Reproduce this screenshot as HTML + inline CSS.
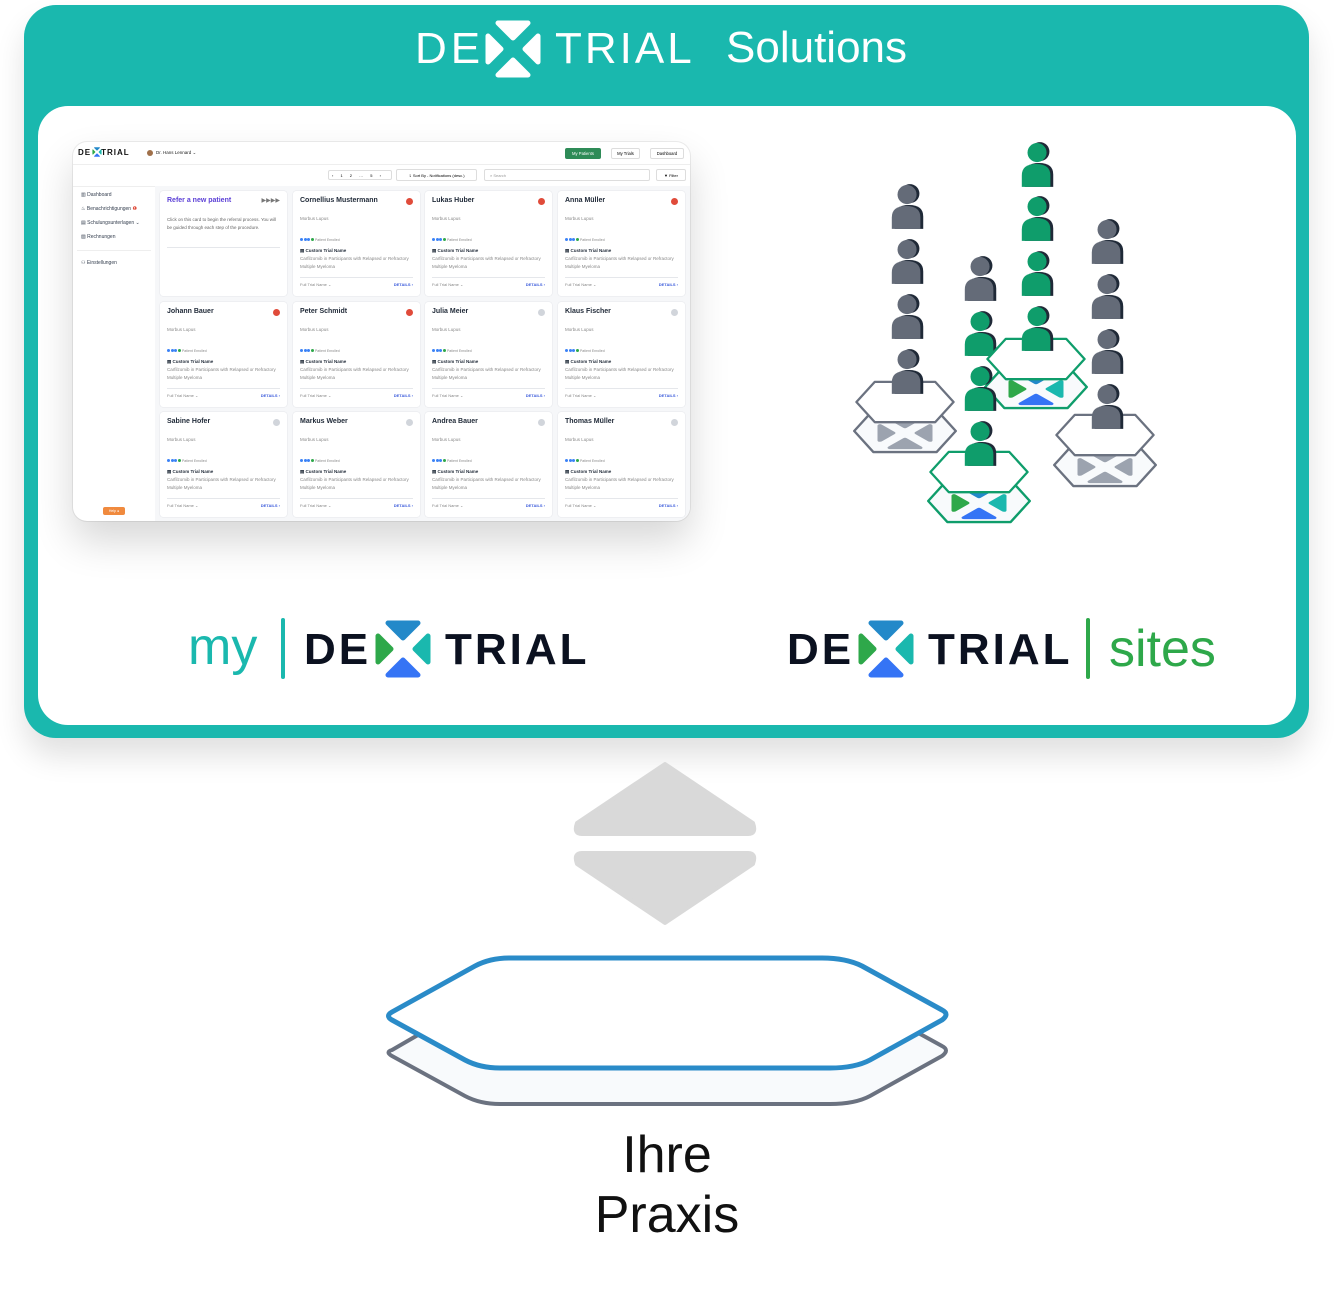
<!DOCTYPE html>
<html><head><meta charset="utf-8">
<style>
*{margin:0;padding:0;box-sizing:border-box}
body{width:1334px;height:1295px;background:#fff;position:relative;overflow:hidden;font-family:"Liberation Sans",sans-serif}
.abs{position:absolute}
#outer{left:24px;top:5px;width:1285px;height:733px;background:#1ab8ae;border-radius:32px;box-shadow:0 18px 30px rgba(0,0,0,.12)}
#inner{left:38px;top:106px;width:1258px;height:619px;background:#fff;border-radius:30px}
.logo{font-weight:bold;letter-spacing:3px;white-space:nowrap}
#dash{left:73px;top:142px;width:617px;height:379px;background:#fff;border-radius:14px;box-shadow:0 20px 40px rgba(0,0,0,.16),0 0 0 1px #eee;overflow:hidden}
#dash .main{position:absolute;left:82px;top:44px;right:0;bottom:0;background:#f6f7f9}
.card{position:absolute;width:127px;height:105px;background:#fff;border-radius:3px;box-shadow:0 0 0 .5px #e5e7eb;font-size:4.5px;color:#888}
.card .n{position:absolute;left:7px;top:6px;font-size:7px;font-weight:bold;color:#1f2937}
.card .b{position:absolute;right:7px;top:7px;width:7px;height:7px;border-radius:50%;background:#e04b3a}
.card .b.g{background:#d1d5db}
.card .m{position:absolute;left:7px;top:25px}
.card .d{position:absolute;left:7px;top:47px;font-size:3.5px}
.card .d i{display:inline-block;width:3px;height:3px;border-radius:50%;background:#3b82f6;margin-right:.5px}
.card .t{position:absolute;left:7px;top:57px;color:#1f2937;font-weight:bold}
.card .x{position:absolute;left:7px;top:64px;width:114px;line-height:7.5px}
.card .l{position:absolute;left:7px;right:7px;top:86px;border-top:.5px solid #e5e7eb}
.card .f{position:absolute;left:7px;top:91px;font-size:4px}
.card .det{position:absolute;right:7px;top:91px;font-size:4px;color:#3b5bdb;font-weight:bold}
.side{position:absolute;left:8px;font-size:5px;color:#374151}
</style></head><body>
<svg width="0" height="0" style="position:absolute">
<defs>
<symbol id="xw" viewBox="0 0 60 60"><g stroke-linejoin="round" stroke-width="5" fill="#fff" stroke="#fff">
<path d="M15 4H45L30 19Z"/><path d="M15 56H45L30 41Z"/><path d="M5 17V43L18 30Z"/><path d="M55 17V43L42 30Z"/></g></symbol>
<symbol id="xc" viewBox="0 0 60 60"><g stroke-linejoin="round" stroke-width="5">
<path d="M15 4H45L30 19Z" fill="#2389c9" stroke="#2389c9"/><path d="M15 56H45L30 41Z" fill="#3574f5" stroke="#3574f5"/><path d="M5 17V43L18 30Z" fill="#2ea84a" stroke="#2ea84a"/><path d="M55 17V43L42 30Z" fill="#1ab8ae" stroke="#1ab8ae"/></g></symbol>
<symbol id="xc2" viewBox="0 0 60 60" preserveAspectRatio="none"><g stroke-linejoin="round" stroke-width="5">
<path d="M15 4H45L30 19Z" fill="#2389c9" stroke="#2389c9"/><path d="M15 56H45L30 41Z" fill="#3574f5" stroke="#3574f5"/><path d="M5 17V43L18 30Z" fill="#2ea84a" stroke="#2ea84a"/><path d="M55 17V43L42 30Z" fill="#1ab8ae" stroke="#1ab8ae"/></g></symbol>
<symbol id="xg" viewBox="0 0 60 60" preserveAspectRatio="none"><g stroke-linejoin="round" stroke-width="5" fill="#9ca3af" stroke="#9ca3af">
<path d="M15 4H45L30 19Z"/><path d="M15 56H45L30 41Z"/><path d="M5 17V43L18 30Z"/><path d="M55 17V43L42 30Z"/></g></symbol>
<symbol id="pg" viewBox="0 0 42 48"><circle cx="23" cy="11" r="10" fill="#1f2937"/><path d="M7 48V35Q7 23 22 23Q37 23 37 35V48Z" fill="#1f2937"/><circle cx="20" cy="12" r="10" fill="#646b78"/><path d="M4 48V36Q4 24 19 24Q34 24 34 36V48Z" fill="#646b78"/></symbol>
<symbol id="pn" viewBox="0 0 42 48"><circle cx="23" cy="11" r="10" fill="#1f2937"/><path d="M7 48V35Q7 23 22 23Q37 23 37 35V48Z" fill="#1f2937"/><circle cx="20" cy="12" r="10" fill="#0f9d6b"/><path d="M4 48V36Q4 24 19 24Q34 24 34 36V48Z" fill="#0f9d6b"/></symbol>
<symbol id="hx" viewBox="0 0 110 48"><path d="M22 2H88L108 24L88 46H22L2 24Z" stroke-linejoin="round" stroke-width="2.5"/></symbol>
</defs></svg>

<div id="outer" class="abs"></div>
<div id="inner" class="abs"></div>

<div class="abs logo" style="left:415px;top:23px;font-size:44px;color:#fff;line-height:52px;font-weight:normal;letter-spacing:4px">DE</div>
<svg class="abs" style="left:483px;top:19px" width="60" height="60"><use href="#xw"/></svg>
<div class="abs logo" style="left:555px;top:23px;font-size:44px;color:#fff;line-height:52px;font-weight:normal;letter-spacing:3px">TRIAL</div>
<div class="abs" style="left:726px;top:22px;font-size:44px;color:#fff;line-height:52px">Solutions</div>

<div id="dash" class="abs">
 <div class="abs" style="left:5px;top:6px;font-size:8px;font-weight:bold;letter-spacing:1px;color:#111">DE<span style="display:inline-block;width:10px"></span>TRIAL</div>
 <svg class="abs" style="left:19px;top:5px" width="10" height="10"><use href="#xc"/></svg>
 <div class="abs" style="left:74px;top:8px;width:6px;height:6px;border-radius:50%;background:#a0704a"></div>
 <div class="abs" style="left:83px;top:8px;font-size:4.5px;color:#222">Dr. Hans Lennard ⌄</div>
 <div class="abs" style="left:492px;top:6px;width:36px;height:11px;background:#2e8b57;border-radius:2px;font-size:4.2px;color:#fff;text-align:center;line-height:11px">My Patients</div>
 <div class="abs" style="left:538px;top:6px;width:29px;height:11px;border:.5px solid #ddd;border-radius:2px;font-size:4.2px;text-align:center;line-height:10px">My Trials</div>
 <div class="abs" style="left:577px;top:6px;width:34px;height:11px;border:.5px solid #ddd;border-radius:2px;font-size:4.2px;text-align:center;line-height:10px">Dashboard</div>
 <div class="abs" style="left:0;right:0;top:22px;border-top:.5px solid #eee"></div>
 <div class="abs" style="left:255px;top:28px;width:64px;height:10px;border:.5px solid #ddd;border-radius:2px;font-size:4px;line-height:9px;letter-spacing:3px;padding-left:3px">‹ 1 2 … 5 ›</div>
 <div class="abs" style="left:323px;top:27px;width:81px;height:12px;border:.5px solid #ddd;border-radius:2px;font-size:4px;line-height:11px;text-align:center">⇂ Sort By - Notifications (desc.)</div>
 <div class="abs" style="left:411px;top:27px;width:166px;height:12px;border:.5px solid #ddd;border-radius:2px;font-size:4px;line-height:11px;padding-left:5px;color:#999">⌕ Search</div>
 <div class="abs" style="left:583px;top:27px;width:30px;height:12px;border:.5px solid #ddd;border-radius:2px;font-size:4px;line-height:11px;text-align:center">▼ Filter</div>
 <div class="abs" style="left:0;right:0;top:44px;border-top:.5px solid #eee"></div>
 <div class="side" style="top:50px">▥ Dashboard</div>
 <div class="side" style="top:64px">♨ Benachrichtigungen <span style="color:#e04b3a">❶</span></div>
 <div class="side" style="top:78px">▤ Schulungsunterlagen ⌄</div>
 <div class="side" style="top:92px">▨ Rechnungen</div>
 <div class="abs" style="left:4px;width:74px;top:108px;border-top:.5px solid #eee"></div>
 <div class="side" style="top:118px">⚇ Einstellungen</div>
 <div class="abs" style="left:30px;top:365px;width:22px;height:8px;background:#f08a3e;border-radius:2px;font-size:3.5px;color:#fff;text-align:center;line-height:8px">Help ●</div>
 <div class="main"></div>

 <div class="card" style="left:87px;top:49px"><div class="n" style="color:#5b3fd6">Refer a new patient</div><div style="position:absolute;right:7px;top:6px;font-size:6px;color:#777">▶▶▶▶</div><div class="x" style="top:25px;color:#666">Click on this card to begin the referral process. You will be guided through each step of the procedure.</div><div class="l" style="top:56px"></div></div>

 <div class="card" style="left:220px;top:49px"><div class="n">Cornellius  Mustermann</div><div class="b"></div><div class="m">Morbus Lupus</div><div class="d"><i></i><i></i><i></i><i style="background:#2ea84a"></i> Patient Enrolled</div><div class="t">▤ Custom Trial Name</div><div class="x">Carfilzomib in Participants with Relapsed or Refractory Multiple Myeloma</div><div class="l"></div><div class="f">Full Trial Name ⌄</div><div class="det">DETAILS ›</div></div>
 <div class="card" style="left:352px;top:49px"><div class="n">Lukas Huber</div><div class="b"></div><div class="m">Morbus Lupus</div><div class="d"><i></i><i></i><i></i><i style="background:#2ea84a"></i> Patient Enrolled</div><div class="t">▤ Custom Trial Name</div><div class="x">Carfilzomib in Participants with Relapsed or Refractory Multiple Myeloma</div><div class="l"></div><div class="f">Full Trial Name ⌄</div><div class="det">DETAILS ›</div></div>
 <div class="card" style="left:485px;top:49px"><div class="n">Anna Müller</div><div class="b"></div><div class="m">Morbus Lupus</div><div class="d"><i></i><i></i><i></i><i style="background:#2ea84a"></i> Patient Enrolled</div><div class="t">▤ Custom Trial Name</div><div class="x">Carfilzomib in Participants with Relapsed or Refractory Multiple Myeloma</div><div class="l"></div><div class="f">Full Trial Name ⌄</div><div class="det">DETAILS ›</div></div>

 <div class="card" style="left:87px;top:160px"><div class="n">Johann Bauer</div><div class="b"></div><div class="m">Morbus Lupus</div><div class="d"><i></i><i></i><i></i><i style="background:#2ea84a"></i> Patient Enrolled</div><div class="t">▤ Custom Trial Name</div><div class="x">Carfilzomib in Participants with Relapsed or Refractory Multiple Myeloma</div><div class="l"></div><div class="f">Full Trial Name ⌄</div><div class="det">DETAILS ›</div></div>
 <div class="card" style="left:220px;top:160px"><div class="n">Peter Schmidt</div><div class="b"></div><div class="m">Morbus Lupus</div><div class="d"><i></i><i></i><i></i><i style="background:#2ea84a"></i> Patient Enrolled</div><div class="t">▤ Custom Trial Name</div><div class="x">Carfilzomib in Participants with Relapsed or Refractory Multiple Myeloma</div><div class="l"></div><div class="f">Full Trial Name ⌄</div><div class="det">DETAILS ›</div></div>
 <div class="card" style="left:352px;top:160px"><div class="n">Julia Meier</div><div class="b g"></div><div class="m">Morbus Lupus</div><div class="d"><i></i><i></i><i></i><i style="background:#2ea84a"></i> Patient Enrolled</div><div class="t">▤ Custom Trial Name</div><div class="x">Carfilzomib in Participants with Relapsed or Refractory Multiple Myeloma</div><div class="l"></div><div class="f">Full Trial Name ⌄</div><div class="det">DETAILS ›</div></div>
 <div class="card" style="left:485px;top:160px"><div class="n">Klaus Fischer</div><div class="b g"></div><div class="m">Morbus Lupus</div><div class="d"><i></i><i></i><i></i><i style="background:#2ea84a"></i> Patient Enrolled</div><div class="t">▤ Custom Trial Name</div><div class="x">Carfilzomib in Participants with Relapsed or Refractory Multiple Myeloma</div><div class="l"></div><div class="f">Full Trial Name ⌄</div><div class="det">DETAILS ›</div></div>

 <div class="card" style="left:87px;top:270px"><div class="n">Sabine Hofer</div><div class="b g"></div><div class="m">Morbus Lupus</div><div class="d"><i></i><i></i><i></i><i style="background:#2ea84a"></i> Patient Enrolled</div><div class="t">▤ Custom Trial Name</div><div class="x">Carfilzomib in Participants with Relapsed or Refractory Multiple Myeloma</div><div class="l"></div><div class="f">Full Trial Name ⌄</div><div class="det">DETAILS ›</div></div>
 <div class="card" style="left:220px;top:270px"><div class="n">Markus Weber</div><div class="b g"></div><div class="m">Morbus Lupus</div><div class="d"><i></i><i></i><i></i><i style="background:#2ea84a"></i> Patient Enrolled</div><div class="t">▤ Custom Trial Name</div><div class="x">Carfilzomib in Participants with Relapsed or Refractory Multiple Myeloma</div><div class="l"></div><div class="f">Full Trial Name ⌄</div><div class="det">DETAILS ›</div></div>
 <div class="card" style="left:352px;top:270px"><div class="n">Andrea Bauer</div><div class="b g"></div><div class="m">Morbus Lupus</div><div class="d"><i></i><i></i><i></i><i style="background:#2ea84a"></i> Patient Enrolled</div><div class="t">▤ Custom Trial Name</div><div class="x">Carfilzomib in Participants with Relapsed or Refractory Multiple Myeloma</div><div class="l"></div><div class="f">Full Trial Name ⌄</div><div class="det">DETAILS ›</div></div>
 <div class="card" style="left:485px;top:270px"><div class="n">Thomas Müller</div><div class="b g"></div><div class="m">Morbus Lupus</div><div class="d"><i></i><i></i><i></i><i style="background:#2ea84a"></i> Patient Enrolled</div><div class="t">▤ Custom Trial Name</div><div class="x">Carfilzomib in Participants with Relapsed or Refractory Multiple Myeloma</div><div class="l"></div><div class="f">Full Trial Name ⌄</div><div class="det">DETAILS ›</div></div>
</div>

<svg class="abs" style="left:0;top:0" width="1334" height="740">
  <use href="#pg" x="888" y="183" width="40" height="46"/>
  <use href="#pg" x="888" y="238" width="40" height="46"/>
  <use href="#pg" x="888" y="293" width="40" height="46"/>
  <use href="#pn" x="1018" y="141" width="40" height="46"/>
  <use href="#pn" x="1018" y="195" width="40" height="46"/>
  <use href="#pn" x="1018" y="250" width="40" height="46"/>
  <use href="#pg" x="1088" y="218" width="40" height="46"/>
  <use href="#pg" x="1088" y="273" width="40" height="46"/>
  <use href="#pg" x="1088" y="328" width="40" height="46"/>
  <use href="#pg" x="961" y="255" width="40" height="46"/>
  <use href="#pn" x="961" y="310" width="40" height="46"/>
  <use href="#hx" x="983" y="364" width="106" height="46" fill="#f8fafc" stroke="#0f9d6b"/>
  <use href="#xc2" x="1006" y="372" width="60" height="34"/>
  <use href="#hx" x="983" y="337" width="106" height="44" fill="#fff" stroke="#0f9d6b"/>
  <use href="#pn" x="1018" y="305" width="40" height="46"/>
  <use href="#pn" x="961" y="365" width="40" height="46"/>
  <use href="#hx" x="852" y="408" width="106" height="46" fill="#f8fafc" stroke="#6b7280"/>
  <use href="#xg" x="875" y="416" width="60" height="34"/>
  <use href="#hx" x="852" y="380" width="106" height="44" fill="#fff" stroke="#6b7280"/>
  <use href="#pg" x="888" y="348" width="40" height="46"/>
  <use href="#hx" x="1052" y="442" width="106" height="46" fill="#f8fafc" stroke="#6b7280"/>
  <use href="#xg" x="1075" y="450" width="60" height="34"/>
  <use href="#hx" x="1052" y="413" width="106" height="44" fill="#fff" stroke="#6b7280"/>
  <use href="#pg" x="1088" y="383" width="40" height="46"/>
  <use href="#hx" x="926" y="478" width="106" height="46" fill="#f8fafc" stroke="#0f9d6b"/>
  <use href="#xc2" x="949" y="486" width="60" height="34"/>
  <use href="#hx" x="926" y="450" width="106" height="44" fill="#fff" stroke="#0f9d6b"/>
  <use href="#pn" x="961" y="420" width="40" height="46"/>
</svg>

<div class="abs" style="left:188px;top:615px;font-size:52px;color:#1ab8ae;line-height:64px">my</div>
<div class="abs" style="left:281px;top:618px;width:4px;height:61px;background:#1ab8ae;border-radius:2px"></div>
<div class="abs logo" style="left:304px;top:624px;font-size:44px;color:#0b1120;line-height:52px">DE</div>
<svg class="abs" style="left:373px;top:619px" width="60" height="60"><use href="#xc"/></svg>
<div class="abs logo" style="left:445px;top:624px;font-size:44px;color:#0b1120;line-height:52px">TRIAL</div>

<div class="abs logo" style="left:787px;top:624px;font-size:44px;color:#0b1120;line-height:52px">DE</div>
<svg class="abs" style="left:856px;top:619px" width="60" height="60"><use href="#xc"/></svg>
<div class="abs logo" style="left:928px;top:624px;font-size:44px;color:#0b1120;line-height:52px">TRIAL</div>
<div class="abs" style="left:1086px;top:618px;width:4px;height:61px;background:#2ea84a;border-radius:2px"></div>
<div class="abs" style="left:1109px;top:617px;font-size:52px;color:#2ea84a;line-height:64px">sites</div>

<svg class="abs" style="left:0;top:740px" width="1334" height="555">
 <path d="M577 83L665 24L753 83Q757 94 748 94H582Q573 94 577 83Z" fill="#d9d9d9" stroke="#d9d9d9" stroke-width="4" stroke-linejoin="round"/>
 <path d="M582 113H748Q757 113 753 124L665 183L577 124Q573 113 582 113Z" fill="#d9d9d9" stroke="#d9d9d9" stroke-width="4" stroke-linejoin="round"/>
 <path d="M392 310L475 262Q490 254 510 254H822Q846 254 862 262L942 306Q950 310 942 316L870 356Q855 364 830 364H500Q480 364 465 356L392 316Q385 312 392 310Z" fill="#f8fafc" stroke="#6b7280" stroke-width="4" stroke-linejoin="round"/>
 <path d="M392 272L475 226Q490 218 510 218H822Q846 218 862 226L942 270Q950 274 942 280L870 320Q855 328 830 328H500Q480 328 465 320L392 280Q385 276 392 272Z" fill="#fff" stroke="#2a8bc8" stroke-width="5" stroke-linejoin="round"/>
</svg>
<div class="abs" style="left:467px;top:1125px;width:400px;text-align:center;font-size:52px;line-height:60px;color:#111">Ihre<br>Praxis</div>
</body></html>
